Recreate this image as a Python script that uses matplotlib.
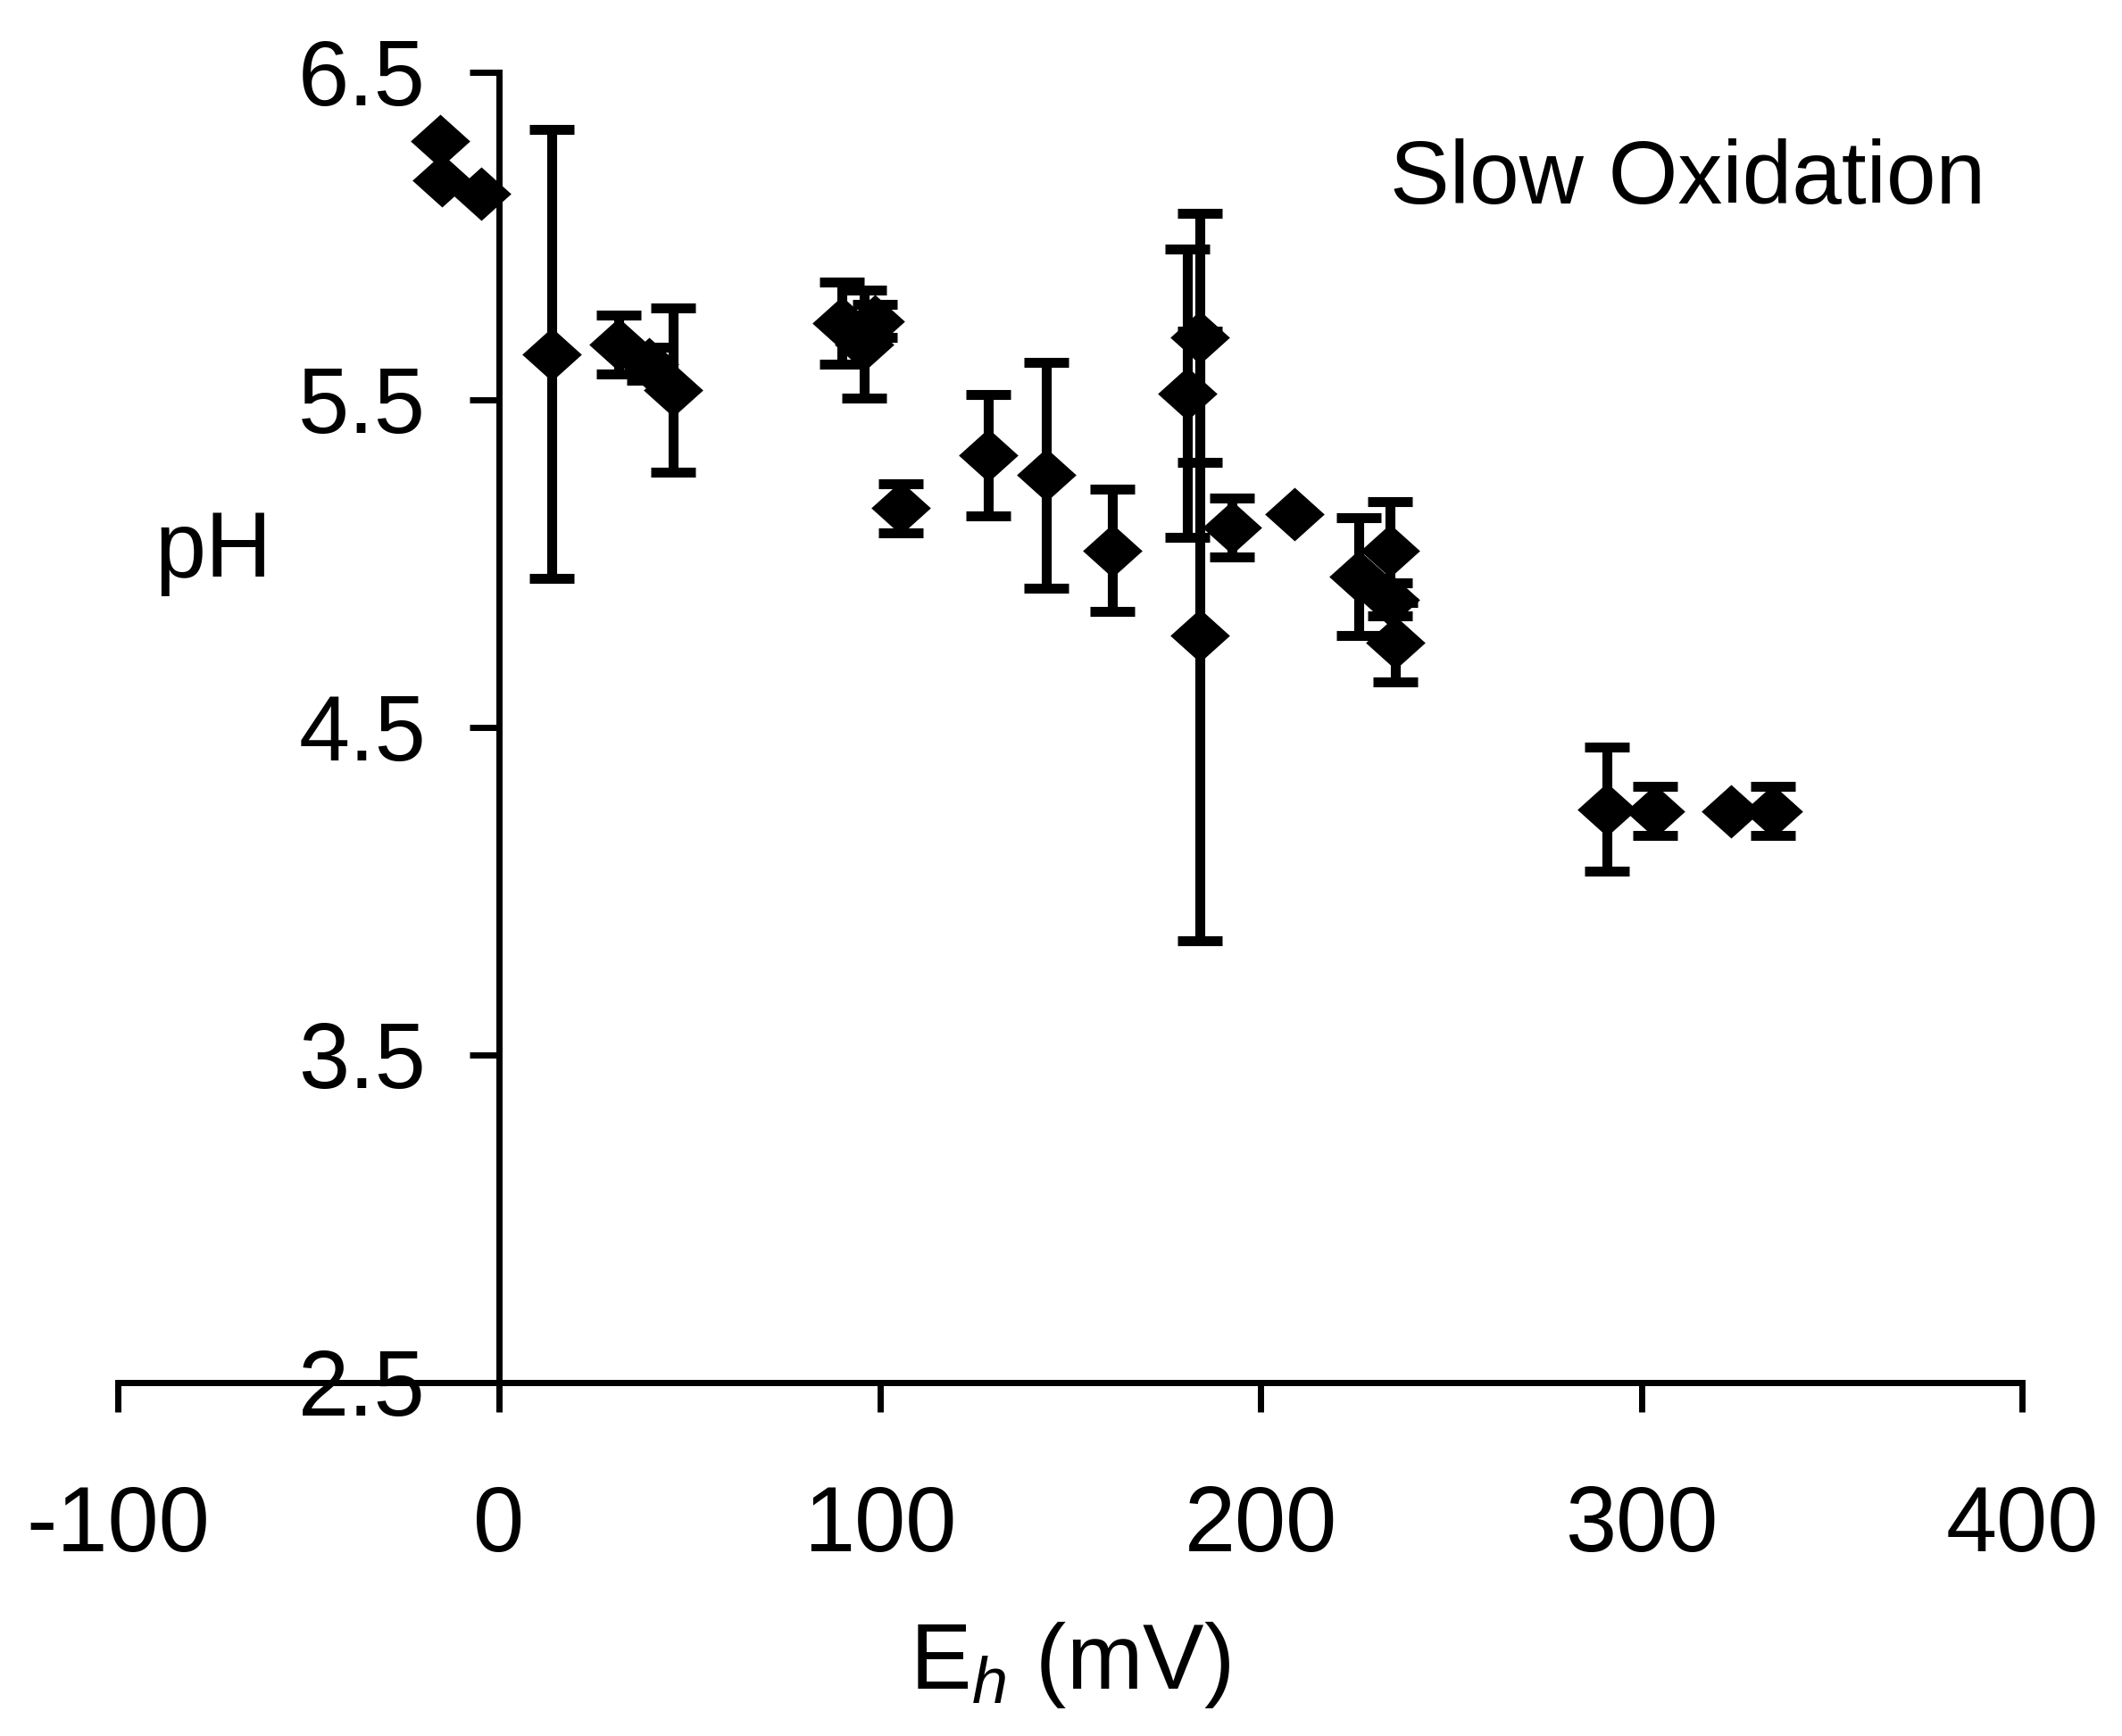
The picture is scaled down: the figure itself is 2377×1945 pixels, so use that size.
import matplotlib
matplotlib.use("Agg")
import matplotlib.pyplot as plt

plt.rcParams['font.family'] = ['Liberation Sans', 'DejaVu Sans']
plt.rcParams['mathtext.fontset'] = 'custom'
plt.rcParams['mathtext.rm'] = 'Liberation Sans'
plt.rcParams['mathtext.it'] = 'Liberation Sans:italic'
plt.rcParams['axes.unicode_minus'] = False

# Eh (mV), pH and error (+/-)
eh_mv = [-15.4, -15.1, -4.7, 13.8, 31.5, 39.3, 45.8, 90.1, 98.7, 95.9, 105.5,
         128.4, 143.6, 161.0, 184.0, 180.7, 184.0, 192.4, 208.9, 225.7, 233.9,
         233.9, 235.4, 291.0, 303.5, 323.5, 334.5]
ph = [6.29, 6.17, 6.13, 5.64, 5.67, 5.61, 5.53, 5.735, 5.74, 5.67, 5.17,
      5.33, 5.27, 5.04, 5.69, 5.52, 4.78, 5.11, 5.15, 4.96, 5.04,
      4.89, 4.76, 4.25, 4.245, 4.245, 4.245]
ph_err = [0, 0, 0, 0.685, 0.09, 0.05, 0.25, 0.125, 0.05, 0.165, 0.075,
          0.185, 0.345, 0.187, 0.38, 0.44, 0.93, 0.09, 0, 0.18, 0.15,
          0.05, 0.12, 0.19, 0.075, 0, 0.075]

x_ticks = [-100, 0, 100, 200, 300, 400]
y_ticks = [2.5, 3.5, 4.5, 5.5, 6.5]

fig = plt.figure(figsize=(23.77, 19.45), dpi=100)
ax = fig.add_axes([0.0557, 0.2036, 0.8973, 0.7548])

diamond = [(-1, 0), (0, 0.9), (1, 0), (0, -0.9)]
ax.errorbar(eh_mv, ph, yerr=ph_err, fmt='none', ecolor='black',
            elinewidth=8, capsize=18, capthick=8)
ax.plot(eh_mv, ph, linestyle='none', marker=diamond, markersize=48,
        color='black', markeredgewidth=0)

ax.set_xlim(-100, 400)
ax.set_ylim(2.5, 6.5)
ax.set_xticks(x_ticks)
ax.set_yticks(y_ticks)
ax.set_yticklabels(['%.1f' % v for v in y_ticks])

ax.spines['left'].set_position(('data', 0))
ax.spines['top'].set_visible(False)
ax.spines['right'].set_visible(False)
for s in ['left', 'bottom']:
    ax.spines[s].set_linewidth(5)
ax.tick_params(direction='out', length=24, width=5, labelsize=74)
ax.tick_params(axis='x', pad=58)
ax.tick_params(axis='y', pad=35)

ax.set_xlabel(r'E$_h$ (mV)', fontsize=74)
ax.xaxis.set_label_coords(0.5, -0.181)
ax.set_ylabel('pH', rotation=0, fontsize=74, ha='center', va='baseline')
ax.yaxis.set_label_coords(-75, 4.96, transform=ax.transData)

ax.text(234, 6.10, 'Slow Oxidation', fontsize=72, ha='left', va='baseline')

plt.savefig('out.png', dpi=100, facecolor='white')
